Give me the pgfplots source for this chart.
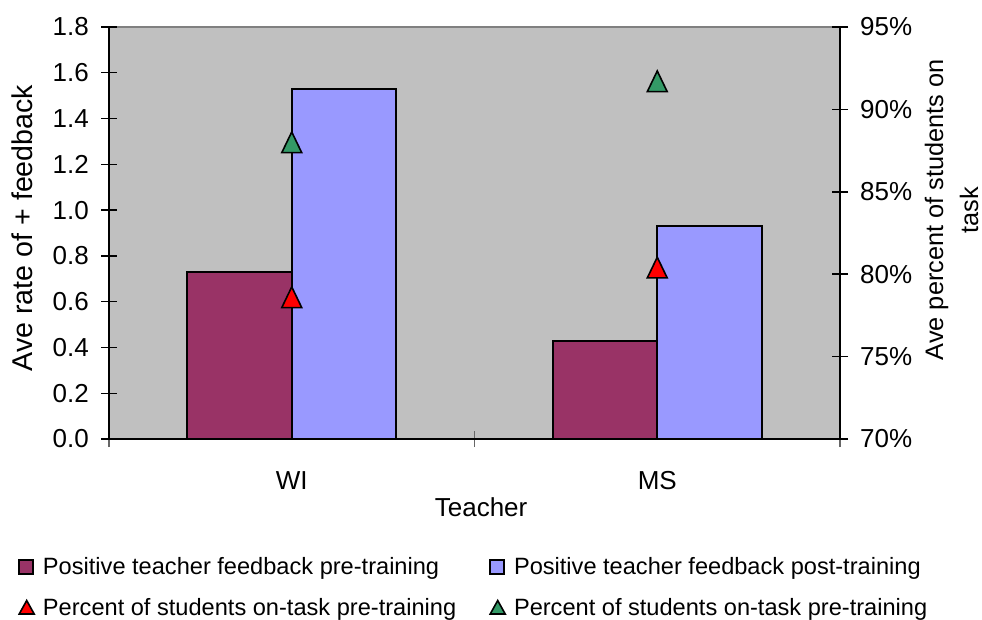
\documentclass[border=0pt]{standalone}
\usepackage{fontspec}
\setmainfont{Liberation Sans}
\usepackage{pgfplots}
\pgfplotsset{compat=1.18}

\definecolor{plotbg}{HTML}{C0C0C0}
\definecolor{prebar}{HTML}{993366}
\definecolor{postbar}{HTML}{9999FF}
\definecolor{taskpre}{HTML}{FF0000}
\definecolor{taskpost}{HTML}{339966}
\definecolor{framegray}{HTML}{808080}

\newcommand\axisfont{\fontsize{26}{31}\selectfont}
\newcommand\legfont{\fontsize{23.6}{28}\selectfont}

\pgfplotsset{
  common/.style={
    scale only axis,
    width=731pt, height=412pt,
    at={(109pt,180pt)}, anchor=south west,
    xmin=-0.5, xmax=1.5,
    /pgf/number format/assume math mode=true,
    tick label style={font=\axisfont},
    axis line style={draw=none},
    tick align=center,
    major tick length=16pt,
    every tick/.style={black, line width=1.4pt},
    clip=false,
  },
}

\begin{document}
\begin{tikzpicture}
\path[use as bounding box] (0pt,0pt) rectangle (982pt,619pt);

% feedback rate per teacher (left axis)
\begin{axis}[common,
  name=rate,
  ymin=0, ymax=1.8,
  xtick pos=bottom, ytick pos=left,
  axis background/.style={fill=plotbg},
  xtick={-0.5,0.5,1.5}, xticklabels={},
  x tick style={black!60},
  extra x ticks={0,1}, extra x tick labels={WI,MS},
  extra x tick style={major tick length=0pt,
    tick label style={anchor=base, inner sep=0pt, yshift=-50pt}},
  ytick={0,0.2,0.4,0.6,0.8,1.0,1.2,1.4,1.6,1.8},
  yticklabel style={anchor=east, inner sep=0pt, xshift=-12pt,
    /pgf/number format/fixed, /pgf/number format/fixed zerofill,
    /pgf/number format/precision=1},
  xlabel={Teacher},
  xlabel style={at={(axis description cs:0.509,-0.187)}, anchor=base,
    inner sep=0pt, font=\axisfont},
  ylabel={Ave rate of + feedback},
  ylabel style={at={(axis description cs:-0.118,0.512)}, anchor=center,
    inner sep=0pt, font=\fontsize{28.6}{34}\selectfont},
  after end axis/.code={
    % frame: grey top edge, black left, bottom and right edges
    \draw[framegray, line width=2pt] (rel axis cs:0,1) -- (rel axis cs:1,1);
    \draw[black, line width=1.2pt] (rel axis cs:0,1) -- (rel axis cs:0,0)
      -- (rel axis cs:1,0) -- (rel axis cs:1,1);
  },
]
\addplot[ybar, bar width=0.286, bar shift=-0.143, fill=prebar, draw=black, line width=2pt]
  coordinates {(0,0.73) (1,0.43)};
\addplot[ybar, bar width=0.286, bar shift=0.143, fill=postbar, draw=black, line width=2pt]
  coordinates {(0,1.53) (1,0.93)};
\end{axis}

% tick marks crossing the left axis, one per 0.2 step of its 412pt height
\foreach \k in {0,...,9}
  \draw[black, line width=1.4pt] ([yshift=\k*412pt/9]rate.south west) ++(-8pt,0pt) -- ++(16pt,0pt);
% tick marks crossing the right axis, one per 5 points
\foreach \k in {0,...,5}
  \draw[black, line width=1.4pt] ([yshift=\k*412pt/5]rate.south east) ++(-8pt,0pt) -- ++(16pt,0pt);

% share of students on task (right axis) and the legend
\begin{axis}[common,
  ymin=70, ymax=95,
  hide x axis,
  ytick pos=right, yticklabel pos=right,
  ytick={70,75,80,85,90,95},
  yticklabel={\pgfmathprintnumber{\tick}\%},
  yticklabel style={anchor=west, inner sep=0pt, xshift=12pt},
  ylabel={Ave percent of students on\\task},
  ylabel style={at={(axis description cs:1.1525,0.556)}, anchor=center,
    align=center, inner sep=0pt, font=\fontsize{25.3}{35}\selectfont},
  legend columns=2,
  legend style={at={(-91pt,-116.6pt)}, anchor=north west,
    draw=none, fill=none, inner sep=0pt, font=\legfont,
    cells={anchor=base west, inner sep=0pt},
    row sep=17.5pt,
    /tikz/every odd column/.append style={column sep=6pt},
    /tikz/every even column/.append style={column sep=31pt}},
]
\addlegendimage{legend image code/.code={
  \draw[fill=prebar, draw=black, line width=2pt] (1pt,1pt) rectangle (15pt,15pt);}}
\addlegendentry{Positive teacher feedback pre-training}
\addlegendimage{legend image code/.code={
  \draw[fill=postbar, draw=black, line width=2pt] (1pt,1pt) rectangle (15pt,15pt);}}
\addlegendentry{Positive teacher feedback post-training}
\addplot[only marks, mark=triangle*, mark size=11.5pt,
  mark options={fill=taskpre, draw=black, line width=1.6pt, yshift=-3.4pt, yscale=1.2},
  legend image code/.code={
    \draw[fill=taskpre, draw=black, line width=1.6pt, line join=miter]
      (1pt,1pt) -- (16pt,1pt) -- (8.5pt,14.5pt) -- cycle;}]
  coordinates {(0,78.6) (1,80.4)};
\addlegendentry{Percent of students on-task pre-training}
\addplot[only marks, mark=triangle*, mark size=11.5pt,
  mark options={fill=taskpost, draw=black, line width=1.6pt, yshift=-3.4pt, yscale=1.2},
  legend image code/.code={
    \draw[fill=taskpost, draw=black, line width=1.6pt, line join=miter]
      (1pt,1pt) -- (16pt,1pt) -- (8.5pt,14.5pt) -- cycle;}]
  coordinates {(0,88.0) (1,91.7)};
\addlegendentry{Percent of students on-task pre-training}
\end{axis}
\end{tikzpicture}
\end{document}
